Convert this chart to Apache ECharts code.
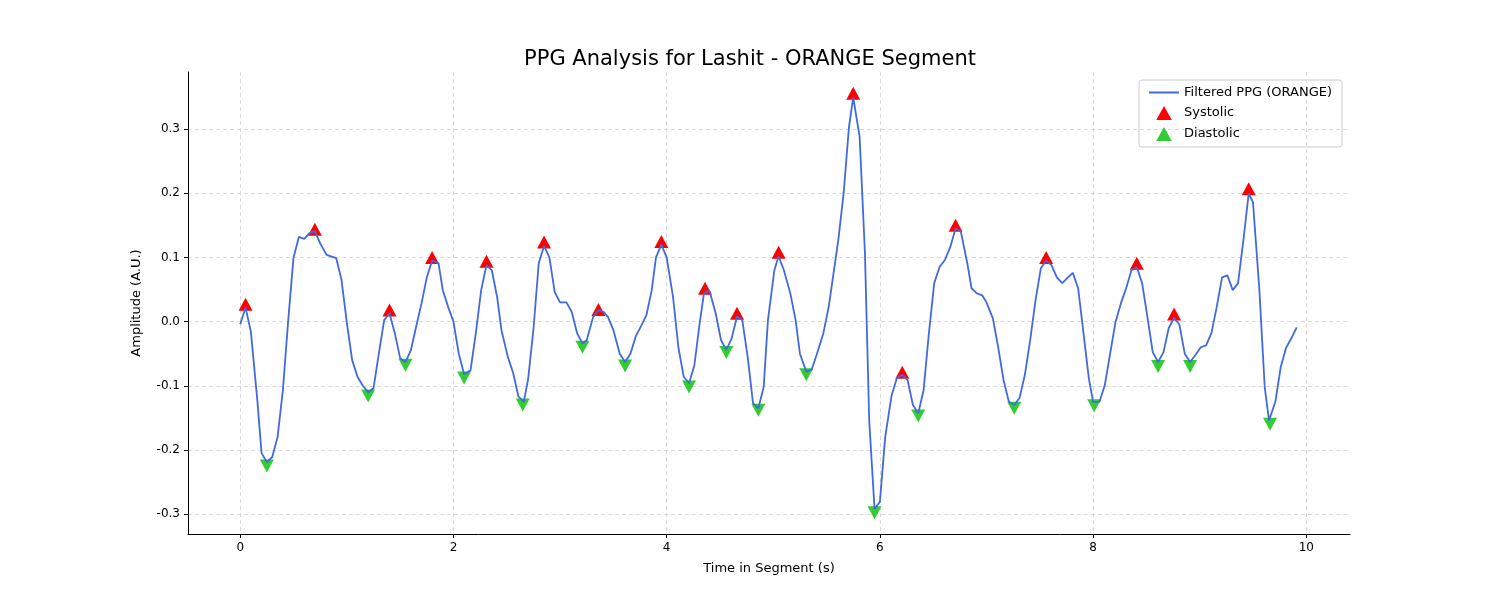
<!DOCTYPE html>
<html>
<head>
<meta charset="utf-8">
<script src="https://cdn.jsdelivr.net/npm/echarts@6/dist/echarts.min.js"></script>
<style>html,body{margin:0;background:#fff}#chart{width:1500px;height:600px}</style>
</head>
<body>
<div id="chart"></div>
<script>
// filtered signal, [time s, amplitude]
const ppg = [
  [0, -0.004], [0.05, 0.022], [0.10, -0.016], [0.16, -0.122], [0.20, -0.205], [0.25, -0.219], [0.30, -0.211],
  [0.35, -0.18], [0.40, -0.107], [0.45, 0.002], [0.50, 0.10], [0.55, 0.132], [0.60, 0.129], [0.65, 0.138],
  [0.70, 0.141], [0.75, 0.122], [0.81, 0.104], [0.90, 0.099], [0.95, 0.065], [1.0, -0.002], [1.05, -0.06],
  [1.10, -0.086], [1.15, -0.10], [1.20, -0.11], [1.25, -0.104], [1.30, -0.05], [1.35, 0.002], [1.40, 0.013],
  [1.45, -0.018], [1.50, -0.057], [1.55, -0.063], [1.60, -0.045], [1.65, -0.008], [1.70, 0.028], [1.75, 0.069],
  [1.80, 0.095], [1.86, 0.091], [1.90, 0.049], [1.95, 0.023], [2.0, 0.0], [2.05, -0.05], [2.10, -0.082],
  [2.16, -0.076], [2.21, -0.018], [2.26, 0.049], [2.31, 0.088], [2.36, 0.08], [2.41, 0.038], [2.45, -0.013],
  [2.51, -0.055], [2.56, -0.08], [2.61, -0.117], [2.66, -0.125], [2.70, -0.09], [2.75, -0.013], [2.80, 0.091],
  [2.85, 0.118], [2.90, 0.10], [2.95, 0.046], [3.0, 0.030], [3.06, 0.030], [3.11, 0.015], [3.16, -0.018],
  [3.21, -0.034], [3.25, -0.029], [3.31, 0.007], [3.36, 0.018], [3.41, 0.015], [3.45, 0.007], [3.50, -0.013],
  [3.56, -0.05], [3.61, -0.063], [3.66, -0.05], [3.71, -0.023], [3.76, -0.007], [3.81, 0.01], [3.86, 0.049],
  [3.90, 0.10], [3.95, 0.12], [4.0, 0.10], [4.06, 0.038], [4.11, -0.04], [4.16, -0.086], [4.21, -0.096],
  [4.26, -0.068], [4.31, -0.002], [4.35, 0.044], [4.40, 0.049], [4.46, 0.013], [4.51, -0.029], [4.56, -0.044],
  [4.61, -0.026], [4.66, 0.008], [4.71, 0.002], [4.76, -0.055], [4.81, -0.127], [4.86, -0.135], [4.91, -0.102],
  [4.95, 0.002], [5.01, 0.08], [5.05, 0.102], [5.10, 0.08], [5.16, 0.044], [5.21, 0.002], [5.25, -0.05],
  [5.31, -0.078], [5.36, -0.075], [5.41, -0.05], [5.47, -0.018], [5.52, 0.023], [5.56, 0.069], [5.61, 0.127],
  [5.66, 0.20], [5.71, 0.303], [5.75, 0.35], [5.81, 0.288], [5.86, 0.107], [5.90, -0.154], [5.95, -0.292],
  [6.0, -0.281], [6.05, -0.18], [6.11, -0.115], [6.16, -0.088], [6.21, -0.083], [6.26, -0.091], [6.31, -0.13],
  [6.36, -0.143], [6.41, -0.107], [6.46, -0.018], [6.51, 0.06], [6.56, 0.085], [6.61, 0.096], [6.66, 0.116],
  [6.71, 0.145], [6.76, 0.14], [6.82, 0.091], [6.86, 0.052], [6.91, 0.044], [6.96, 0.041], [7.0, 0.030],
  [7.06, 0.005], [7.11, -0.04], [7.16, -0.091], [7.21, -0.125], [7.26, -0.13], [7.31, -0.119], [7.36, -0.083],
  [7.41, -0.029], [7.46, 0.033], [7.51, 0.083], [7.56, 0.095], [7.61, 0.088], [7.66, 0.069], [7.71, 0.06],
  [7.76, 0.068], [7.81, 0.076], [7.86, 0.052], [7.91, -0.018], [7.96, -0.088], [8.0, -0.125], [8.06, -0.125],
  [8.11, -0.099], [8.16, -0.05], [8.21, -0.001], [8.26, 0.028], [8.31, 0.052], [8.36, 0.08], [8.41, 0.085],
  [8.46, 0.06], [8.51, 0.007], [8.56, -0.048], [8.61, -0.063], [8.66, -0.048], [8.71, -0.010], [8.76, 0.006],
  [8.81, -0.005], [8.86, -0.05], [8.91, -0.063], [8.96, -0.052], [9.01, -0.04], [9.06, -0.037], [9.11, -0.018],
  [9.16, 0.023], [9.21, 0.069], [9.26, 0.072], [9.31, 0.049], [9.36, 0.06], [9.41, 0.127], [9.46, 0.2],
  [9.50, 0.186], [9.56, 0.049], [9.61, -0.102], [9.65, -0.154], [9.71, -0.125], [9.76, -0.071], [9.81, -0.041],
  [9.86, -0.026], [9.91, -0.009]
];
const systolicT = [0.05, 0.70, 1.40, 1.80, 2.31, 2.85, 3.36, 3.95, 4.36, 4.66, 5.05, 5.75, 6.21, 6.71, 7.56, 8.41, 8.76, 9.46];
const systolicV = [0.027, 0.144, 0.018, 0.100, 0.094, 0.124, 0.019, 0.125, 0.052, 0.013, 0.108, 0.356, -0.079, 0.150, 0.100, 0.091, 0.012, 0.207];
const diastolicT = [0.25, 1.20, 1.55, 2.10, 2.65, 3.21, 3.61, 4.21, 4.56, 4.86, 5.31, 5.95, 6.36, 7.26, 8.01, 8.61, 8.91, 9.66];
const diastolicV = [-0.225, -0.116, -0.068, -0.088, -0.130, -0.040, -0.069, -0.102, -0.048, -0.138, -0.083, -0.298, -0.147, -0.135, -0.131, -0.070, -0.070, -0.160];
const xTicks = [0, 2, 4, 6, 8, 10];
const yTicks = [-0.3, -0.2, -0.1, 0, 0.1, 0.2, 0.3];

const pair = (ts, vs) => ts.map((t, i) => [t, vs[i]]);
const grid = { lineStyle: { color: '#cfcfcf', type: [4, 3], width: 0.8 } };
const tri = 'path://M0,-10L10,8L-10,8Z';

const chart = echarts.init(document.getElementById('chart'));
chart.setOption({
  animation: false,
  textStyle: { fontFamily: 'DejaVu Sans' },
  title: {
    text: 'PPG Analysis for Lashit - ORANGE Segment', left: 'center', top: 44,
    textStyle: { fontSize: 21, fontWeight: 'normal', color: '#000', fontFamily: 'DejaVu Sans' }
  },
  grid: { left: 188, right: 150, top: 72, bottom: 66 },
  legend: {
    orient: 'vertical', right: 158, top: 80, padding: [6, 10, 6, 10],
    borderColor: '#ccc', borderWidth: 1, borderRadius: 3, itemGap: 7, itemWidth: 30, itemHeight: 14,
    textStyle: { fontSize: 13, color: '#000' },
    data: [
      { name: 'Filtered PPG (ORANGE)', icon: 'path://M0,6L30,6L30,8L0,8Z' },
      { name: 'Systolic' }, { name: 'Diastolic' }
    ]
  },
  xAxis: {
    type: 'value', min: -0.49, max: 10.41,
    name: 'Time in Segment (s)', nameLocation: 'middle', nameGap: 28,
    nameTextStyle: { fontSize: 13, color: '#000' },
    axisLine: { show: true, onZero: false, lineStyle: { color: '#000' } },
    axisTick: { show: true, customValues: xTicks, length: 4, lineStyle: { color: '#000' } },
    axisLabel: { customValues: xTicks, color: '#000', fontSize: 12 },
    splitLine: { show: true, ...grid }
  },
  yAxis: {
    type: 'value', min: -0.331, max: 0.389,
    name: 'Amplitude (A.U.)', nameLocation: 'middle', nameGap: 45,
    nameTextStyle: { fontSize: 13, color: '#000' },
    axisLine: { show: true, onZero: false, lineStyle: { color: '#000' } },
    axisTick: { show: true, customValues: yTicks, length: 4, lineStyle: { color: '#000' } },
    axisLabel: { customValues: yTicks, color: '#000', fontSize: 12, formatter: v => v.toFixed(1) },
    splitLine: { show: true, ...grid }
  },
  series: [
    {
      name: 'Filtered PPG (ORANGE)', type: 'line', data: ppg, showSymbol: false, symbol: 'none',
      lineStyle: { color: '#4169e1', width: 1.8 }, itemStyle: { color: '#4169e1' }
    },
    {
      name: 'Systolic', type: 'scatter', data: pair(systolicT, systolicV),
      symbol: tri, symbolSize: [14, 13], itemStyle: { color: '#ff0000', opacity: 1 }
    },
    {
      name: 'Diastolic', type: 'scatter', data: pair(diastolicT, diastolicV),
      symbol: tri, symbolRotate: 180, symbolSize: [14, 13], itemStyle: { color: '#32cd32', opacity: 1 }
    }
  ]
});
</script>
</body>
</html>
